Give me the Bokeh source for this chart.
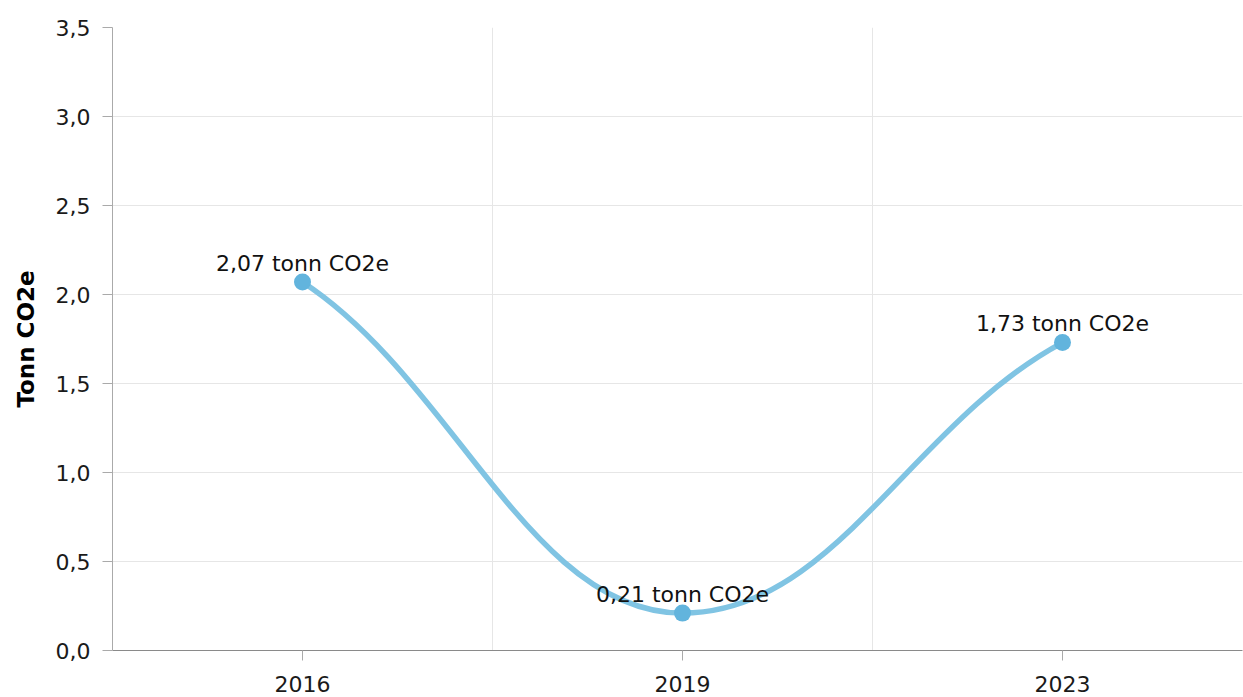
from bokeh.plotting import figure
from bokeh.models import FixedTicker, Range1d, ColumnDataSource
from bokeh.embed import file_html
from bokeh.resources import INLINE

years = ["2016", "2019", "2023"]
values = [2.07, 0.21, 1.73]
label_texts = ["2,07 tonn CO2e", "0,21 tonn CO2e", "1,73 tonn CO2e"]
y_ticks = [0.0, 0.5, 1.0, 1.5, 2.0, 2.5, 3.0, 3.5]
y_tick_labels = ["0,0", "0,5", "1,0", "1,5", "2,0", "2,5", "3,0", "3,5"]
y_title = "Tonn CO2e"

FONT = "DejaVu Sans"
xs = list(range(len(years)))

p = figure(width=1243, height=697, output_backend="svg", toolbar_location=None,
           x_range=Range1d(-0.5, 2.4737), y_range=Range1d(0, 3.5),
           min_border_left=112, min_border_top=27, min_border_right=1, min_border_bottom=47)
p.outline_line_color = None
p.background_fill_color = "white"

# grids
p.xgrid.ticker = FixedTicker(ticks=[-0.5, 0.5, 1.5, 2.5])
p.xgrid.grid_line_color = "#e6e6e6"
p.ygrid.ticker = FixedTicker(ticks=y_ticks)
p.ygrid.grid_line_color = "#e6e6e6"

# axes
p.xaxis.ticker = FixedTicker(ticks=xs)
p.xaxis.major_label_overrides = {i: y for i, y in zip(xs, years)}
p.yaxis.ticker = FixedTicker(ticks=y_ticks)
p.yaxis.major_label_overrides = {t: l for t, l in zip(y_ticks, y_tick_labels)}
for ax in (p.xaxis[0], p.yaxis[0]):
    ax.major_label_text_font = FONT
    ax.major_label_text_font_size = "22px"
    ax.major_label_text_color = "#1a1a1a"
    ax.minor_tick_line_color = None
    ax.major_tick_in = 0
    ax.major_tick_out = 10
p.xaxis.axis_line_color = "#8a8a8a"
p.xaxis.major_tick_line_color = "#aaaaaa"
p.yaxis.axis_line_color = "#aaaaaa"
p.yaxis.major_tick_line_color = "#aaaaaa"
p.xaxis.major_label_standoff = 15
p.yaxis.major_label_standoff = 12
p.yaxis.axis_label = y_title
p.yaxis.axis_label_text_font = FONT
p.yaxis.axis_label_text_font_style = "bold"
p.yaxis.axis_label_text_font_size = "23px"
p.yaxis.axis_label_text_color = "#000000"
p.yaxis.axis_label_standoff = 14

# smooth curve: cubic Bezier segments, flat tangents at local extrema
def tangent_slopes(px, py, end_factor=0.75):
    n = len(px)
    m = [0.0] * n
    for i in range(1, n - 1):
        d0 = py[i] - py[i - 1]
        d1 = py[i + 1] - py[i]
        if d0 * d1 <= 0:
            m[i] = 0.0
        else:
            m[i] = (py[i + 1] - py[i - 1]) / (px[i + 1] - px[i - 1])
    m[0] = end_factor * (py[1] - py[0]) / (px[1] - px[0])
    m[-1] = end_factor * (py[-1] - py[-2]) / (px[-1] - px[-2])
    return m

m = tangent_slopes(xs, values)
h = 0.4
seg = dict(x0=[], y0=[], x1=[], y1=[], cx0=[], cy0=[], cx1=[], cy1=[])
for i in range(len(xs) - 1):
    dx = xs[i + 1] - xs[i]
    seg["x0"].append(xs[i]); seg["y0"].append(values[i])
    seg["x1"].append(xs[i + 1]); seg["y1"].append(values[i + 1])
    seg["cx0"].append(xs[i] + h * dx); seg["cy0"].append(values[i] + m[i] * h * dx)
    seg["cx1"].append(xs[i + 1] - h * dx); seg["cy1"].append(values[i + 1] - m[i + 1] * h * dx)

p.bezier(x0="x0", y0="y0", x1="x1", y1="y1", cx0="cx0", cy0="cy0", cx1="cx1", cy1="cy1",
         source=ColumnDataSource(seg), line_color="#80c4e3", line_width=5.5, line_cap="round")

src = ColumnDataSource(dict(x=xs, y=values, t=label_texts))
p.scatter("x", "y", source=src, size=17, fill_color="#62b4dd", line_color=None)
p.text("x", "y", text="t", source=src, text_align="center", text_baseline="alphabetic",
       y_offset=-19, text_font_size="22px", text_color="#111111",
       text_font={"value": FONT})

open("out.html", "w").write(file_html(p, INLINE))
